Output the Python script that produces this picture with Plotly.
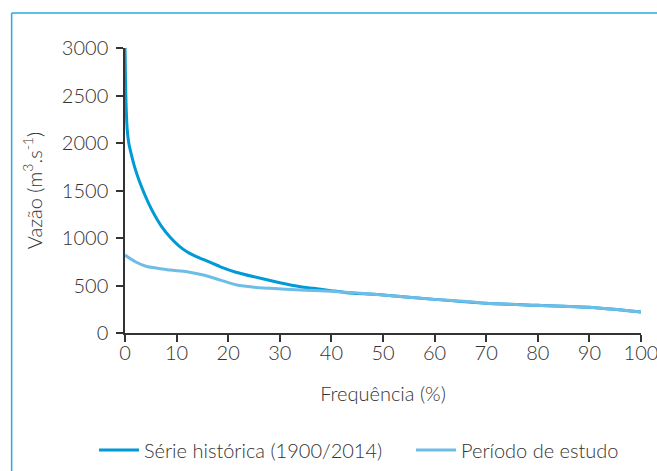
import plotly.graph_objects as go

# Série histórica (1900/2014)
freq_hist = [0, 0.1, 0.2, 0.35, 0.5, 0.73, 1.2, 1.8, 2.7, 3.6, 4.6, 5.6, 7.0, 8.8, 10.5, 12.0, 13.5, 15.0, 18.5, 21.5, 25.0, 30.0, 34.0, 36.5, 40.0, 43.0, 50.0, 60.0, 70.0, 80.0, 90.0, 100.0]
vazao_hist = [3000, 2650, 2420, 2207, 2100, 2000, 1885, 1760, 1610, 1485, 1362, 1255, 1128, 1005, 915, 855, 812, 778, 697, 640, 592, 529, 487, 470, 445, 424, 400, 354, 312, 291, 270, 221]

# Período de estudo
freq_est = [0, 2, 4.2, 6.5, 8.8, 12, 15.2, 18.5, 21.7, 25, 28.2, 34, 40, 45, 50, 60, 67, 70, 80, 83, 90, 100]
vazao_est = [820, 750, 700, 680, 662, 645, 610, 557, 505, 482, 470, 452, 440, 420, 400, 354, 329, 312, 291, 284, 270, 221]

x_ticks = [0, 10, 20, 30, 40, 50, 60, 70, 80, 90, 100]
y_ticks = [0, 500, 1000, 1500, 2000, 2500, 3000]

DARK = "#009ad6"
LIGHT = "#6dbde6"
TICK_FONT = dict(family="Lato", size=20, color="#333333", weight=300)
TITLE_FONT = dict(family="Lato", size=20, color="#333333", weight=300)
LEG_FONT = dict(family="Lato", size=20, color="#333333", weight=300)

fig = go.Figure()
fig.add_trace(go.Scatter(x=freq_hist, y=vazao_hist, mode="lines",
                         name="Série histórica (1900/2014)", legend="legend", showlegend=True,
                         line=dict(color=DARK, width=3, shape="spline", smoothing=0.5)))
fig.add_trace(go.Scatter(x=freq_est, y=vazao_est, mode="lines",
                         name="Período de estudo", legend="legend2", showlegend=True,
                         line=dict(color=LIGHT, width=3, shape="spline", smoothing=0.6)))

axis_common = dict(showgrid=False, zeroline=False, showline=True, linecolor="#333333",
                   linewidth=1.5, ticks="outside", ticklen=7, tickwidth=1.5,
                   tickcolor="#333333", tickfont=TICK_FONT, automargin=False,
                   ticklabeloverflow="allow")

leg_common = dict(orientation="h", xref="container", yref="container", xanchor="left",
                  yanchor="middle", font=LEG_FONT, itemwidth=40, bgcolor="rgba(0,0,0,0)",
                  visible=True)

fig.update_layout(
    width=657, height=471,
    showlegend=True,
    margin=dict(l=124.5, r=16, t=48, b=138),
    paper_bgcolor="white", plot_bgcolor="white",
    font=TICK_FONT,
    xaxis=dict(range=[0, 100], tickvals=x_ticks, ticktext=[str(v) for v in x_ticks],
               ticklabelstandoff=-6,
               title=dict(text="Frequência (%)", font=TITLE_FONT, standoff=24), **axis_common),
    yaxis=dict(range=[0, 3000], tickvals=y_ticks, ticktext=[str(v) for v in y_ticks],
               ticklabelstandoff=4,
               title=dict(text="Vazão (m<sup>3</sup>.s<sup>-1</sup>)", font=TITLE_FONT, standoff=14),
               **axis_common),
    legend=dict(x=0.1431, y=0.0446, **leg_common),
    legend2=dict(x=0.6256, y=0.0446, **leg_common),
    shapes=[
        dict(type="line", xref="paper", yref="paper", x0=-0.2197, x1=1.1, y0=1.1228, y1=1.1228,
             line=dict(color="#29abe2", width=1.5)),
        dict(type="line", xref="paper", yref="paper", x0=-0.2197, x1=-0.2197, y0=1.1228, y1=-0.6,
             line=dict(color="#29abe2", width=1.5)),
    ],
)

fig.write_html("out.html", config={"displayModeBar": False},
               post_script="document.body.style.margin='0';document.body.style.overflow='hidden';")
